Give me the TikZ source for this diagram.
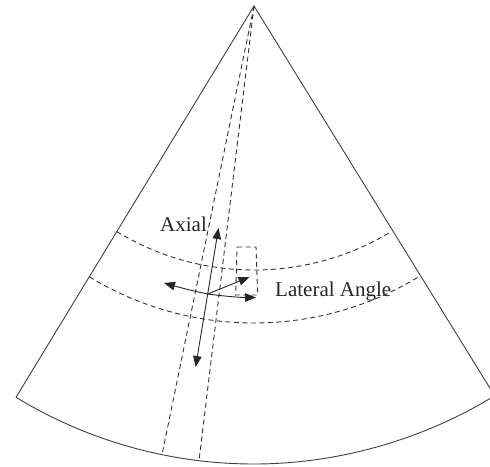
\documentclass[tikz,border=0pt]{standalone}
\usepackage{fontspec}
\setmainfont{Liberation Serif}
\usetikzlibrary{arrows.meta}
\tikzset{
  px/.style={x=1pt,y=-1pt},
  solidline/.style={draw=black!75,line width=0.9pt},
  dashline/.style={draw=black!80,line width=0.9pt,dash pattern=on 5pt off 3.5pt},
  arrowline/.style={draw=black!85,line width=0.9pt,-{Triangle[length=11pt,width=8.5pt]}},
  lbl/.style={font=\fontsize{21}{23}\selectfont,text=black!85,inner sep=0pt}
}
\begin{document}
\begin{tikzpicture}[px]
\useasboundingbox (0,0) rectangle (490,466);
\coordinate (apex) at (254,6);
\coordinate (bl) at (16,397.3);
\coordinate (br) at (494.6,395.7);
\coordinate (sl) at (162,454.7);
\coordinate (sr) at (199,460.7);
\coordinate (c) at (207.7,294);
\coordinate (axtop) at (218.5,228);
\coordinate (axbot) at (195.6,367);
\coordinate (latl) at (164,283);
\coordinate (latr) at (256,297.5);
\coordinate (obl) at (249.5,277);
\coordinate (b1) at (237,247);
\coordinate (b2) at (256,247);
\coordinate (b3) at (257.7,295);
\coordinate (b4) at (235.7,295);
% sector
\draw[solidline] (bl) -- (apex) -- (br);
\draw[solidline] (bl) .. controls (87.6,440.9) and (170.1,464) .. (254,464) .. controls (337.9,464) and (423.2,439.7) .. (br);
% dashed arcs
\coordinate (u1) at (116.8,231.6);
\coordinate (u2) at (391.2,231.6);
\coordinate (v1) at (89.3,276.8);
\coordinate (v2) at (418.7,276.8);
\draw[dashline] (u1) .. controls (158.1,256.8) and (205.6,270) .. (254,270) .. controls (302.4,270) and (349.9,256.8) .. (u2);
\draw[dashline] (v1) .. controls (138.9,307) and (195.9,323) .. (254,323) .. controls (312.1,323) and (369.1,307) .. (v2);
% dashed strip
\draw[dashline] (apex) -- (sl);
\draw[dashline] (apex) -- (sr);
% dashed box
\draw[dashline] (b1) -- (b2) -- (b3) -- (b4) -- cycle;
% arrows
\draw[arrowline] (c) -- (axtop);
\draw[arrowline] (c) -- (axbot);
\draw[arrowline] (c) -- (obl);
\draw[arrowline] (c) .. controls (193,291) and (178,287) .. (latl);
\draw[arrowline] (c) .. controls (222,296) and (240,297.5) .. (latr);
% labels
\node[lbl,anchor=base west] (axial) at (160,231) {Axial};
\node[lbl,anchor=base west] (lateral) at (275,296) {Lateral Angle};
\end{tikzpicture}
\end{document}
